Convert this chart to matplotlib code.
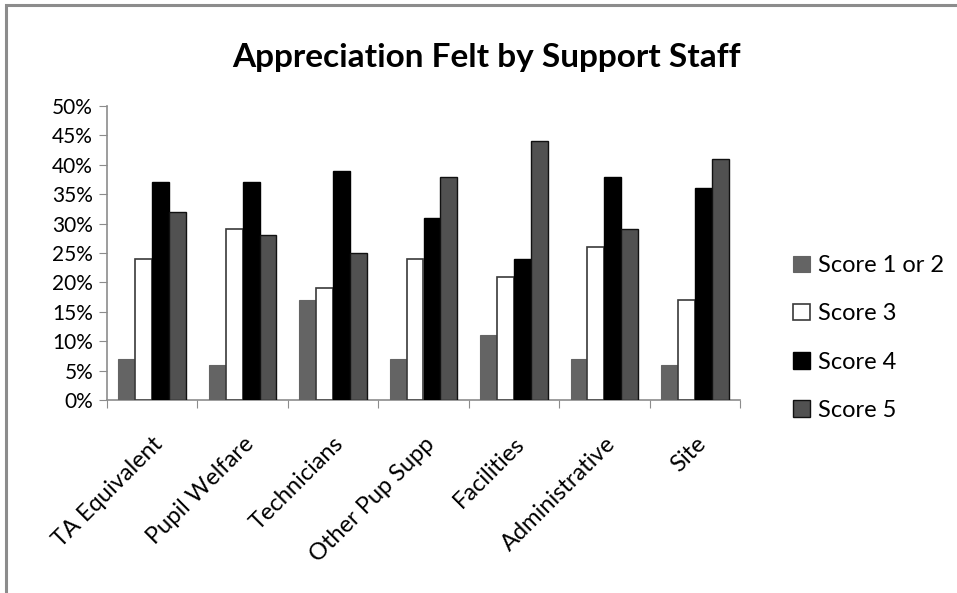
import matplotlib
matplotlib.use("Agg")
import matplotlib.pyplot as plt
import numpy as np
from matplotlib.patches import Rectangle
from matplotlib.ticker import FuncFormatter, MultipleLocator

categories = ["TA Equivalent", "Pupil Welfare", "Technicians", "Other Pup Supp",
              "Facilities", "Administrative", "Site"]
series_names = ["Score 1 or 2", "Score 3", "Score 4", "Score 5"]
score_1_2 = [7, 6, 17, 7, 11, 7, 6]
score_3 = [24, 29, 19, 24, 21, 26, 17]
score_4 = [37, 37, 39, 31, 24, 38, 36]
score_5 = [32, 28, 25, 38, 44, 29, 41]

plt.rcParams.update({
    "font.family": ["Lato", "DejaVu Sans"],
    "text.color": "#000000",
})

fig = plt.figure(figsize=(9.57, 5.93), dpi=100, facecolor="white")
ax = fig.add_axes([107 / 957, 1 - 400 / 593, (740 - 107) / 957, (400 - 106) / 593])

# outer chart frame (cut at right / bottom like the original screenshot)
fig.patches.append(Rectangle((6 / 957, -0.1), 1.2, 1 - 5 / 593 + 0.1,
                             transform=fig.transFigure, fill=False,
                             edgecolor="#8c8c8c", linewidth=2.2))

styles = [
    {"facecolor": "#646464", "edgecolor": "#646464", "linewidth": 0.8},
    {"facecolor": "#ffffff", "edgecolor": "#3a3a3a", "linewidth": 1.2},
    {"facecolor": "#000000", "edgecolor": "#000000", "linewidth": 1.0},
    {"facecolor": "#515151", "edgecolor": "#111111", "linewidth": 1.0},
]
data = [score_1_2, score_3, score_4, score_5]

x = np.arange(len(categories))
width = 0.187
for i, (vals, name) in enumerate(zip(data, series_names)):
    ax.bar(x + (i - 1.5) * width, np.array(vals) / 100, width=width,
           label=name, zorder=3, **styles[i])

ax.set_xlim(-0.5, len(categories) - 0.5)
ax.set_ylim(0, 0.5)
ax.yaxis.set_major_locator(MultipleLocator(0.05))
ax.yaxis.set_major_formatter(FuncFormatter(lambda v, _: f"{round(v * 100)}%"))

ax.set_xticks(np.arange(len(categories) + 1) - 0.5, minor=False)
ax.set_xticklabels([])
ax.set_xticks(x, minor=True)
ax.set_xticklabels(categories, minor=True, rotation=45, ha="right", va="top",
                   rotation_mode="anchor", fontsize=17)
ax.tick_params(axis="x", which="minor", length=0, pad=24)
ax.tick_params(axis="x", which="major", length=6, color="#8c8c8c", direction="out")
ax.tick_params(axis="y", length=6, color="#8c8c8c", direction="out", labelsize=15, pad=4)

for side in ["top", "right"]:
    ax.spines[side].set_visible(False)
for side in ["left", "bottom"]:
    ax.spines[side].set_color("#8c8c8c")
    ax.spines[side].set_linewidth(1.2)

fig.text(486 / 957, 1 - 57 / 593, "Appreciation Felt by Support Staff",
         ha="center", va="center", fontsize=24, fontweight="bold")

leg = fig.legend(loc="center left", bbox_to_anchor=(772 / 957, 1 - 338 / 593),
                 frameon=False, fontsize=17, handlelength=0.7, handleheight=0.7,
                 handletextpad=0.35, labelspacing=1.15)

fig.savefig("out.png", dpi=100, facecolor="white")
